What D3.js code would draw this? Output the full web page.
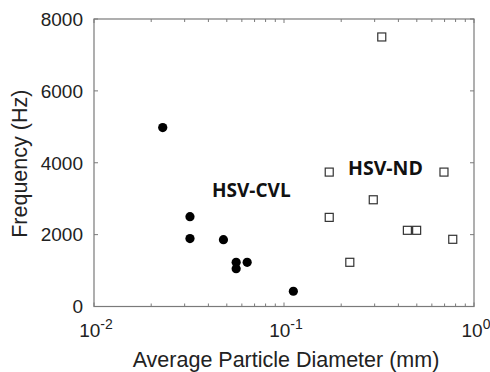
<!DOCTYPE html>
<html>
<head>
<meta charset="utf-8">
<script src="https://cdn.jsdelivr.net/npm/d3@7"></script>
<style>
  body { margin: 0; background: #fff; }
  svg { display: block; font-family: "Liberation Sans", Arial, sans-serif; }
</style>
</head>
<body>
<div id="container"></div>
<script>
/* DATA */
const cvlDiameter = [0.023, 0.032, 0.032, 0.048, 0.056, 0.056, 0.064, 0.112];
const cvlFreq     = [4980, 2500, 1890, 1860, 1230, 1050, 1230, 425];
const ndDiameter  = [0.327, 0.173, 0.695, 0.173, 0.295, 0.446, 0.499, 0.773, 0.222];
const ndFreq      = [7500, 3740, 3740, 2480, 2970, 2120, 2120, 1870, 1230];
const yTicks = [0, 2000, 4000, 6000, 8000];
const xTicks = [0.01, 0.1, 1];
const xExps  = ["-2", "-1", "0"];

/* CONSTANTS */
const width = 490, height = 372,
  margin = {top: 19, bottom: 65, left: 94, right: 16};

const svg = d3.select("#container").append("svg")
  .attr("width", width)
  .attr("height", height);

/* SCALES */
const xScale = d3.scaleLog()
  .domain([0.01, 1])
  .range([margin.left, width - margin.right]);

const yScale = d3.scaleLinear()
  .domain([0, 8000])
  .range([height - margin.bottom - 0.5, margin.top]);

const axisColor = "#7a7a7a";
const textColor = "#222";
const x0 = margin.left, x1 = width - margin.right;
const y0 = yScale(0), y1 = yScale(8000);

// box
svg.append("rect")
  .attr("x", x0).attr("y", y1)
  .attr("width", x1 - x0).attr("height", y0 - y1)
  .attr("fill", "none")
  .attr("stroke", axisColor)
  .attr("stroke-width", 1.2);

// x ticks (major + minor), inward on bottom and top
const minor = [];
[0.01, 0.1].forEach(dec => {
  for (let k = 2; k <= 9; k++) minor.push(dec * k);
});
const tickG = svg.append("g").attr("stroke", axisColor).attr("stroke-width", 1);
xTicks.concat(minor).forEach(v => {
  const len = xTicks.includes(v) ? 4 : 3;
  const x = xScale(v);
  tickG.append("line").attr("x1", x).attr("x2", x).attr("y1", y0).attr("y2", y0 - len);
  tickG.append("line").attr("x1", x).attr("x2", x).attr("y1", y1).attr("y2", y1 + len);
});
// y ticks, inward on left and right
yTicks.forEach(v => {
  const y = yScale(v);
  tickG.append("line").attr("x1", x0).attr("x2", x0 + 4).attr("y1", y).attr("y2", y);
  tickG.append("line").attr("x1", x1).attr("x2", x1 - 4).attr("y1", y).attr("y2", y);
});

// y tick labels
svg.append("g").selectAll("text")
  .data(yTicks)
  .join("text")
  .attr("x", x0 - 11)
  .attr("y", d => yScale(d))
  .attr("dy", "0.36em")
  .attr("text-anchor", "end")
  .attr("font-size", 19)
  .attr("fill", textColor)
  .text(d => d);

// x tick labels 10^n
const xl = svg.append("g").selectAll("text")
  .data(xTicks)
  .join("text")
  .attr("x", (d, i) => xScale(d) + 2)
  .attr("y", y0 + 30)
  .attr("text-anchor", "middle")
  .attr("font-size", 19)
  .attr("fill", textColor);
xl.append("tspan").text("10");
xl.append("tspan")
  .attr("font-size", 14)
  .attr("dy", -8)
  .text((d, i) => xExps[i]);

// axis titles
svg.append("text")
  .attr("x", (x0 + x1) / 2 + 2)
  .attr("y", 367)
  .attr("text-anchor", "middle")
  .attr("font-size", 21.5)
  .attr("fill", textColor)
  .text("Average Particle Diameter (mm)");

svg.append("text")
  .attr("transform", `translate(27, ${(y0 + y1) / 2 + 1}) rotate(-90)`)
  .attr("text-anchor", "middle")
  .attr("font-size", 21.5)
  .attr("fill", textColor)
  .text("Frequency (Hz)");

/* MARKS */
svg.append("g").selectAll("circle")
  .data(cvlDiameter.map((d, i) => ({d, f: cvlFreq[i]})))
  .join("circle")
  .attr("cx", p => xScale(p.d))
  .attr("cy", p => yScale(p.f))
  .attr("r", 4.6)
  .attr("fill", "#000");

const sq = 8;
svg.append("g").selectAll("rect")
  .data(ndDiameter.map((d, i) => ({d, f: ndFreq[i]})))
  .join("rect")
  .attr("x", p => xScale(p.d) - sq / 2)
  .attr("y", p => yScale(p.f) - sq / 2)
  .attr("width", sq)
  .attr("height", sq)
  .attr("fill", "#fff")
  .attr("stroke", "#333")
  .attr("stroke-width", 1.2);

// group labels
svg.append("text")
  .attr("x", 212).attr("y", 197)
  .attr("font-family", "'Open Sans', sans-serif")
  .attr("font-weight", 700)
  .attr("font-size", 19)
  .attr("fill", "#111")
  .text("HSV-CVL");

svg.append("text")
  .attr("x", 348).attr("y", 175)
  .attr("font-family", "'Open Sans', sans-serif")
  .attr("font-weight", 700)
  .attr("font-size", 19.5)
  .attr("fill", "#111")
  .text("HSV-ND");
</script>
</body>
</html>
